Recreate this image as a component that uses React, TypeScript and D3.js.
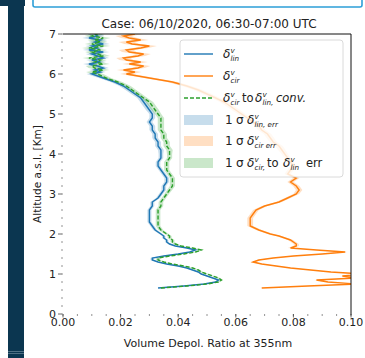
import React from 'react';
import * as d3 from 'd3';

// altitude grid (km)
const ALT = [
  0.65, 0.7, 0.75, 0.8, 0.85, 0.9, 0.95, 1.0, 1.05, 1.1, 1.15, 1.2, 1.25, 1.3,
  1.35, 1.4, 1.45, 1.5, 1.55, 1.6, 1.65, 1.7, 1.75, 1.8, 1.85, 1.9, 1.95, 2.0,
  2.1, 2.2, 2.3, 2.4, 2.5, 2.6, 2.7, 2.8, 2.9, 3.0, 3.1, 3.2, 3.3, 3.4, 3.5, 3.6,
  3.7, 3.8, 3.9, 4.0, 4.1, 4.2, 4.3, 4.4, 4.5, 4.6, 4.7, 4.8, 4.9, 5.0, 5.1, 5.2,
  5.3, 5.4, 5.5, 5.6, 5.7, 5.8, 5.9,
  6.0, 6.05, 6.1, 6.15, 6.2, 6.25, 6.3, 6.35, 6.4, 6.45, 6.5, 6.55, 6.6, 6.65,
  6.7, 6.75, 6.8, 6.85, 6.9, 6.95, 7.0,
];

// δ^v_lin
const LIN = [
  0.033, 0.042, 0.049, 0.053, 0.054, 0.052, 0.050, 0.048, 0.047, 0.045, 0.043, 0.040, 0.036, 0.033,
  0.031, 0.031, 0.035, 0.040, 0.044, 0.046, 0.043, 0.039, 0.037, 0.036, 0.036, 0.035, 0.035, 0.034,
  0.032, 0.031, 0.030, 0.030, 0.030, 0.030, 0.031, 0.031, 0.033, 0.034, 0.035, 0.035, 0.036, 0.036, 0.035, 0.034,
  0.033, 0.033, 0.034, 0.034, 0.034, 0.033, 0.033, 0.032, 0.032, 0.031, 0.031, 0.030, 0.031, 0.031, 0.030, 0.029,
  0.028, 0.027, 0.025, 0.023, 0.021, 0.018, 0.014,
  0.010, 0.013, 0.011, 0.014, 0.012, 0.009, 0.013, 0.010, 0.014, 0.012, 0.010, 0.014, 0.009, 0.012,
  0.010, 0.014, 0.011, 0.013, 0.009, 0.012, 0.011,
];

// δ^v_cir
const CIR = [
  0.069, 0.085, 0.102, 0.092, 0.088, 0.102, 0.097, 0.104, 0.093, 0.086, 0.079, 0.074, 0.069, 0.066,
  0.068, 0.073, 0.080, 0.090, 0.098, 0.088, 0.079, 0.081, 0.081, 0.080, 0.079, 0.077, 0.075, 0.072,
  0.068, 0.065, 0.065, 0.065, 0.066, 0.067, 0.070, 0.075, 0.078, 0.081, 0.082, 0.081, 0.079, 0.081, 0.078, 0.079,
  0.080, 0.079, 0.078, 0.077, 0.076, 0.075, 0.073, 0.072, 0.071, 0.069, 0.068, 0.066, 0.064, 0.062, 0.060, 0.058,
  0.056, 0.053, 0.050, 0.047, 0.043, 0.038, 0.030,
  0.022, 0.025, 0.021, 0.026, 0.028, 0.023, 0.027, 0.022, 0.021, 0.026, 0.028, 0.023, 0.022, 0.027,
  0.030, 0.024, 0.022, 0.027, 0.023, 0.021, 0.025,
];

// δ^v_cir to δ^v_lin conversion
const CONV = [
  0.034, 0.043, 0.050, 0.054, 0.055, 0.054, 0.052, 0.050, 0.048, 0.047, 0.045, 0.042, 0.038, 0.035,
  0.033, 0.033, 0.037, 0.042, 0.046, 0.048, 0.045, 0.041, 0.039, 0.038, 0.038, 0.037, 0.037, 0.036,
  0.034, 0.033, 0.033, 0.033, 0.033, 0.033, 0.034, 0.034, 0.035, 0.036, 0.037, 0.038, 0.038, 0.038, 0.037, 0.036,
  0.036, 0.036, 0.037, 0.037, 0.037, 0.036, 0.036, 0.035, 0.035, 0.034, 0.034, 0.034, 0.034, 0.033, 0.032, 0.031,
  0.030, 0.028, 0.026, 0.024, 0.022, 0.019, 0.015,
  0.012, 0.010, 0.014, 0.011, 0.010, 0.014, 0.011, 0.013, 0.009, 0.014, 0.012, 0.010, 0.013, 0.009,
  0.014, 0.010, 0.013, 0.011, 0.014, 0.010, 0.012,
];

// 1 sigma errors
const ERR_LIN = [
  0.0005, 0.0005, 0.0005, 0.0005, 0.0005, 0.0005, 0.0005, 0.0005, 0.0005, 0.0005, 0.0005, 0.0005, 0.0005, 0.0005,
  0.0006, 0.0006, 0.0006, 0.0006, 0.0006, 0.0006, 0.0006, 0.0006, 0.0006, 0.0006, 0.0006, 0.0006, 0.0006, 0.0006,
  0.0007, 0.0007, 0.0007, 0.0007, 0.0007, 0.0007, 0.0007, 0.0007, 0.0007, 0.0007, 0.0008, 0.0008, 0.0008, 0.0008, 0.0008, 0.0008,
  0.0008, 0.0008, 0.0008, 0.0008, 0.0010, 0.0010, 0.0010, 0.0010, 0.0010, 0.0010, 0.0010, 0.0010, 0.0010, 0.0010, 0.0012, 0.0012,
  0.0012, 0.0012, 0.0013, 0.0013, 0.0014, 0.0015, 0.0016,
  0.0018, 0.0018, 0.0019, 0.0019, 0.0019, 0.0020, 0.0020, 0.0020, 0.0020, 0.0021, 0.0021, 0.0021, 0.0021, 0.0022,
  0.0022, 0.0022, 0.0022, 0.0023, 0.0023, 0.0023, 0.0024,
];
const ERR_CIR = [
  0.0008, 0.0008, 0.0008, 0.0008, 0.0008, 0.0008, 0.0008, 0.0008, 0.0008, 0.0008, 0.0008, 0.0008, 0.0008, 0.0008,
  0.0009, 0.0009, 0.0009, 0.0009, 0.0009, 0.0009, 0.0009, 0.0009, 0.0009, 0.0009, 0.0009, 0.0009, 0.0009, 0.0009,
  0.0010, 0.0010, 0.0010, 0.0010, 0.0010, 0.0010, 0.0010, 0.0010, 0.0010, 0.0010, 0.0011, 0.0011, 0.0011, 0.0011, 0.0011, 0.0011,
  0.0011, 0.0011, 0.0011, 0.0011, 0.0013, 0.0013, 0.0013, 0.0013, 0.0013, 0.0013, 0.0013, 0.0013, 0.0013, 0.0013, 0.0015, 0.0015,
  0.0015, 0.0015, 0.0016, 0.0016, 0.0017, 0.0018, 0.0019,
  0.0022, 0.0022, 0.0023, 0.0023, 0.0023, 0.0024, 0.0024, 0.0024, 0.0025, 0.0025, 0.0025, 0.0025, 0.0026, 0.0026,
  0.0026, 0.0027, 0.0027, 0.0027, 0.0028, 0.0028, 0.0028,
];
const ERR_CONV = [
  0.0006, 0.0006, 0.0006, 0.0006, 0.0006, 0.0006, 0.0006, 0.0006, 0.0006, 0.0006, 0.0006, 0.0006, 0.0006, 0.0006,
  0.0007, 0.0007, 0.0007, 0.0007, 0.0007, 0.0007, 0.0007, 0.0007, 0.0007, 0.0007, 0.0007, 0.0007, 0.0007, 0.0007,
  0.0008, 0.0008, 0.0008, 0.0008, 0.0008, 0.0008, 0.0008, 0.0008, 0.0008, 0.0008, 0.0009, 0.0009, 0.0009, 0.0009, 0.0009, 0.0009,
  0.0009, 0.0009, 0.0009, 0.0009, 0.0011, 0.0011, 0.0011, 0.0011, 0.0011, 0.0011, 0.0011, 0.0011, 0.0011, 0.0011, 0.0013, 0.0013,
  0.0013, 0.0013, 0.0014, 0.0014, 0.0015, 0.0016, 0.0017,
  0.0020, 0.0020, 0.0021, 0.0021, 0.0021, 0.0022, 0.0022, 0.0022, 0.0022, 0.0023, 0.0023, 0.0023, 0.0023, 0.0024,
  0.0024, 0.0024, 0.0024, 0.0025, 0.0025, 0.0025, 0.0026,
];

const X_TICKS = [0, 0.02, 0.04, 0.06, 0.08, 0.1];
const X_TICK_LABELS = ['0.00', '0.02', '0.04', '0.06', '0.08', '0.10'];
const Y_TICKS = [0, 1, 2, 3, 4, 5, 6, 7];
const Y_TICK_LABELS = ['0', '1', '2', '3', '4', '5', '6', '7'];

const TITLE = 'Case: 06/10/2020, 06:30-07:00 UTC';
const X_LABEL = 'Volume Depol. Ratio at 355nm';
const Y_LABEL = 'Altitude a.s.l. [Km]';

const BLUE = '#1f77b4';
const ORANGE = '#ff7f0e';
const GREEN = '#2ca02c';
const FONT = 'DejaVu Sans, sans-serif';

function Delta({ x, y, sub, fs = 12 }: { x: number; y: number; sub: string; fs?: number }) {
  return (
    <g fontFamily={FONT}>
      <text x={x} y={y} fontSize={fs} fontStyle="italic">δ</text>
      <text x={x + 7.5} y={y - 5} fontSize={fs * 0.6} fontStyle="italic">v</text>
      <text x={x + 7.5} y={y + 3} fontSize={fs * 0.6} fontStyle="italic">{sub}</text>
    </g>
  );
}

export default function App() {
  const W = 365, H = 358;
  const left = 63, right = 351, top = 34, bottom = 314;
  const x = d3.scaleLinear().domain([0, 0.1]).range([left, right]);
  const y = d3.scaleLinear().domain([0, 7]).range([bottom, top]);

  const idx = ALT.map((_, i) => i);
  const line = (vals: number[]) =>
    d3.line<number>().x((i) => x(vals[i])).y((i) => y(ALT[i]))(idx) || '';
  const band = (vals: number[], err: number[]) =>
    d3
      .area<number>()
      .y((i) => y(ALT[i]))
      .x0((i) => x(vals[i] - err[i]))
      .x1((i) => x(vals[i] + err[i]))(idx) || '';

  const xMinor = x.ticks(20);
  const yMinor = y.ticks(28);

  const legX = 180, legY = 40, legW = 163, legH = 137;
  const rowY = [54, 76, 98, 120, 141, 163];
  const hx0 = 184, hx1 = 213, tx = 223;

  return (
    <svg width={W} height={H} style={{ position: 'absolute', left: 0, top: 0, background: '#fff' }}>
      <defs>
        <clipPath id="plotclip">
          <rect x={left} y={top} width={right - left} height={bottom - top} />
        </clipPath>
      </defs>
      {/* page decoration */}
      <rect x={8} y={0} width={16} height={H} fill="#0b3650" />
      <rect x={0} y={0} width={25} height={6} fill="#0b3650" />
      <line x1={8} x2={24} y1={351.5} y2={351.5} stroke="#5f7f92" strokeWidth={0.8} />
      <line x1={8} x2={24} y1={353.5} y2={353.5} stroke="#5f7f92" strokeWidth={0.8} />
      <rect x={33} y={-10} width={329} height={17} rx={2} fill="none" stroke="#2d9fd8" strokeWidth={1.6} />

      {/* title */}
      <text x={209} y={28} textAnchor="middle" fontFamily={FONT} fontSize={12} fill="#222">{TITLE}</text>

      {/* data */}
      <g clipPath="url(#plotclip)">
        <path d={band(LIN, ERR_LIN)} fill={BLUE} fillOpacity={0.25} />
        <path d={band(CIR, ERR_CIR)} fill={ORANGE} fillOpacity={0.25} />
        <path d={band(CONV, ERR_CONV)} fill={GREEN} fillOpacity={0.25} />
        <path d={line(LIN)} fill="none" stroke={BLUE} strokeWidth={1.4} />
        <path d={line(CIR)} fill="none" stroke={ORANGE} strokeWidth={1.4} />
        <path d={line(CONV)} fill="none" stroke={GREEN} strokeWidth={1.4} strokeDasharray="4 2" />
      </g>

      {/* spines */}
      <line x1={left} x2={right} y1={top} y2={top} stroke="#111" strokeWidth={1} />
      <line x1={right} x2={right} y1={top} y2={bottom + 1} stroke="#111" strokeWidth={1} />

      {/* x axis */}
      {xMinor.map((t, i) => (
        <line key={'xm' + i} x1={x(t)} x2={x(t)} y1={bottom} y2={bottom + 2} stroke="#777" strokeWidth={0.8} />
      ))}
      {X_TICKS.map((t, i) => (
        <g key={'xt' + i}>
          <line x1={x(t)} x2={x(t)} y1={bottom} y2={bottom + 3.5} stroke="#444" strokeWidth={0.8} />
          <text x={x(t)} y={326} textAnchor="middle" fontFamily={FONT} fontSize={11} fill="#222">{X_TICK_LABELS[i]}</text>
        </g>
      ))}
      <text x={208} y={347} textAnchor="middle" fontFamily={FONT} fontSize={11} fill="#222">{X_LABEL}</text>

      {/* y axis */}
      {yMinor.map((t, i) => (
        <line key={'ym' + i} x1={left - 2} x2={left} y1={y(t)} y2={y(t)} stroke="#777" strokeWidth={0.8} />
      ))}
      {Y_TICKS.map((t, i) => (
        <g key={'yt' + i}>
          <line x1={left - 5} x2={left - 1.5} y1={y(t)} y2={y(t)} stroke="#444" strokeWidth={0.8} />
          <text x={left - 7} y={y(t) + 4} textAnchor="end" fontFamily={FONT} fontSize={11} fill="#222">{Y_TICK_LABELS[i]}</text>
        </g>
      ))}
      <text
        transform={`translate(41,${(top + bottom) / 2}) rotate(-90)`}
        textAnchor="middle"
        fontFamily={FONT}
        fontSize={10.5}
        fill="#222"
      >
        {Y_LABEL}
      </text>

      {/* legend */}
      <rect x={legX} y={legY} width={legW} height={legH} rx={3} fill="#fff" fillOpacity={0.8} stroke="#d0d0d0" strokeWidth={0.8} />
      <line x1={hx0} x2={hx1} y1={rowY[0]} y2={rowY[0]} stroke={BLUE} strokeWidth={1.4} />
      <line x1={hx0} x2={hx1} y1={rowY[1]} y2={rowY[1]} stroke={ORANGE} strokeWidth={1.4} />
      <line x1={hx0} x2={hx1} y1={rowY[2]} y2={rowY[2]} stroke={GREEN} strokeWidth={1.4} strokeDasharray="4 2" />
      <rect x={hx0} y={rowY[3] - 5} width={hx1 - hx0} height={10} fill={BLUE} fillOpacity={0.25} />
      <rect x={hx0} y={rowY[4] - 5} width={hx1 - hx0} height={10} fill={ORANGE} fillOpacity={0.25} />
      <rect x={hx0} y={rowY[5] - 5} width={hx1 - hx0} height={10} fill={GREEN} fillOpacity={0.25} />

      <g fill="#222">
        <Delta x={tx} y={rowY[0] + 4} sub="lin" />
        <Delta x={tx} y={rowY[1] + 4} sub="cir" />
        <Delta x={tx} y={rowY[2] + 4} sub="cir" />
        <text x={242} y={rowY[2] + 4} fontFamily={FONT} fontSize={11.5}>to</text>
        <Delta x={255} y={rowY[2] + 4} sub="lin," />
        <text x={276} y={rowY[2] + 4} fontFamily={FONT} fontSize={11.5} fontStyle="italic">conv.</text>

        <text x={225} y={rowY[3] + 4} fontFamily={FONT} fontSize={12}>1</text>
        <text x={236} y={rowY[3] + 4} fontFamily={FONT} fontSize={12}>σ</text>
        <Delta x={247} y={rowY[3] + 4} sub="lin, err" />

        <text x={225} y={rowY[4] + 4} fontFamily={FONT} fontSize={12}>1</text>
        <text x={236} y={rowY[4] + 4} fontFamily={FONT} fontSize={12}>σ</text>
        <Delta x={247} y={rowY[4] + 4} sub="cir err" />

        <text x={225} y={rowY[5] + 4} fontFamily={FONT} fontSize={12}>1</text>
        <text x={236} y={rowY[5] + 4} fontFamily={FONT} fontSize={12}>σ</text>
        <Delta x={247} y={rowY[5] + 4} sub="cir," />
        <text x={267} y={rowY[5] + 4} fontFamily={FONT} fontSize={11.5}>to</text>
        <Delta x={283} y={rowY[5] + 4} sub="lin" />
        <text x={306} y={rowY[5] + 4} fontFamily={FONT} fontSize={11.5}>err</text>
      </g>
    </svg>
  );
}
